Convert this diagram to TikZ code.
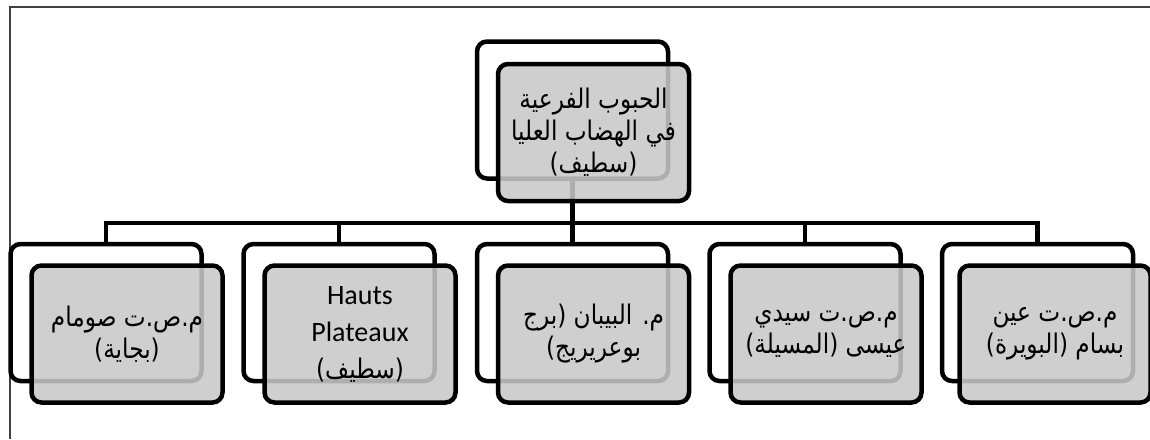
\documentclass[tikz,border=0pt]{standalone}
\usepackage{fontspec}
\setmainfont{Carlito}
\newfontfamily\arabicfont[Script=Arabic,FakeStretch=0.86]{DejaVu Sans}
\TeXXeTstate=1
\newcommand{\arsize}{\arabicfont\fontsize{27}{32}\selectfont}
\begin{document}
\begin{tikzpicture}[x=1pt,y=-1pt,
  backbox/.style={draw=black,line width=4.5pt,fill=white,rounded corners=10pt,
    minimum width=191pt,minimum height=137pt,inner sep=0pt},
  frontbox/.style={draw=black,line width=4.5pt,fill=black!21,fill opacity=0.87,text opacity=1,
    rounded corners=10pt,minimum width=191pt,minimum height=137pt,inner sep=0pt,
    align=center,font=\arsize,text=black},
  link/.style={line width=4.5pt,line join=miter},
  frame/.style={draw=black!75,line width=1.5pt}]
\useasboundingbox (0,0) rectangle (1150,439);
\fill[white] (0,0) rectangle (1150,439);
\draw[frame] (1150,7) -- (10,7) -- (10,439);
% back boxes
\node[backbox] (b0) at (572.5,110) {};
\node[backbox] (b1) at (106,312.5) {};
\node[backbox] (b2) at (339,312.5) {};
\node[backbox] (b3) at (572.5,312.5) {};
\node[backbox] (b4) at (805,312.5) {};
\node[backbox] (b5) at (1037.5,312.5) {};
% connectors
\coordinate (j) at (572.5,223);
\draw[link] (b0.south) -- (j);
\draw[link] (j) -| (b1.north);
\draw[link] (j) -| (b2.north);
\draw[link] (j) -- (b3.north);
\draw[link] (j) -| (b4.north);
\draw[link] (j) -| (b5.north);
% front boxes
\node[frontbox] (f0) at (593.5,132.5) {\beginR الحبوب الفرعية\endR\\\beginR في الهضاب العليا\endR\\\beginR (سطيف)\endR};
\node[frontbox] (f1) at (127,334) {\beginR م.ص.ت صومام\endR\\\beginR (بجاية)\endR};
\node[frontbox,font=\fontsize{28}{37}\selectfont] (f2) at (360,334) {\raisebox{-4pt}{Hauts}\\\raisebox{-4pt}{Plateaux}\\{\arsize\raisebox{-4pt}{\beginR (سطيف)\endR}}};
\node[frontbox] (f3) at (593.5,334) {\beginR م. البيبان (برج\endR\\\beginR بوعريريج)\endR};
\node[frontbox] (f4) at (826,334) {\beginR م.ص.ت سيدي\endR\\\beginR عيسى (المسيلة)\endR};
\node[frontbox] (f5) at (1055,334) {\beginR م.ص.ت عين\endR\\\beginR بسام (البويرة)\endR};
\end{tikzpicture}
\end{document}
